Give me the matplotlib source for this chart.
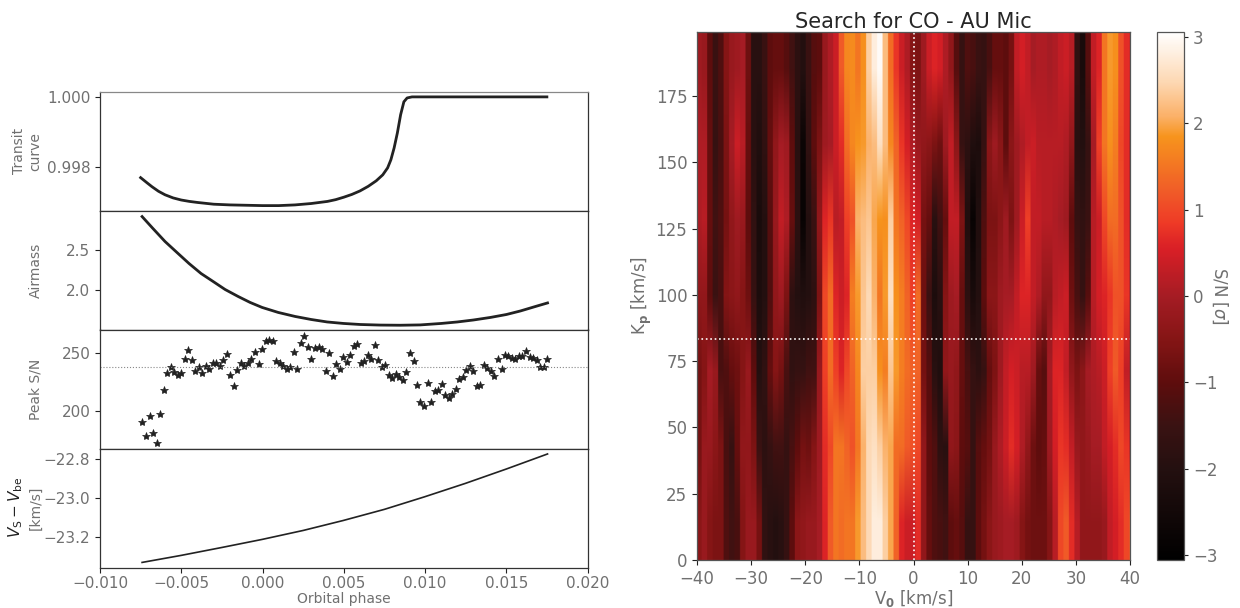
import numpy as np
import matplotlib
matplotlib.use("Agg")
import matplotlib.pyplot as plt
from matplotlib.colors import LinearSegmentedColormap

# ---------- left panels ----------
transit_phase = [-0.0075, -0.0071, -0.0068, -0.0064, -0.0060, -0.0055, -0.0050, -0.0045, -0.0040, -0.0030,
                 -0.0020, -0.0010, 0.0, 0.0010, 0.0020, 0.0030, 0.0040, 0.0045, 0.0050, 0.0055,
                 0.0060, 0.0065, 0.0070, 0.0074, 0.0077, 0.0079, 0.0081, 0.0083, 0.0085, 0.0087,
                 0.0089, 0.0092, 0.0175]
transit_flux = [0.99769, 0.99754, 0.99743, 0.99730, 0.99720, 0.99711, 0.99705, 0.99701, 0.99698, 0.99693,
                0.99691, 0.99690, 0.99689, 0.99689, 0.99691, 0.99695, 0.99701, 0.99706, 0.99713, 0.99721,
                0.99731, 0.99744, 0.99760, 0.99777, 0.99797, 0.99820, 0.99854, 0.99897, 0.99949, 0.99986,
                0.99997, 1.0, 1.0]

airmass_phase = [-0.00741, -0.00674, -0.0060, -0.00526, -0.00452, -0.00378, -0.00304, -0.0023, -0.0015, -0.00076,
                 -0.00002, 0.00097, 0.00201, 0.0030, 0.00398, 0.00497, 0.00602, 0.00725, 0.00848, 0.00971,
                 0.01101, 0.01199, 0.01298, 0.01402, 0.01501, 0.01587, 0.0168, 0.01754]
airmass_vals = [2.902, 2.756, 2.598, 2.463, 2.329, 2.207, 2.110, 2.012, 1.927, 1.854,
                1.793, 1.732, 1.683, 1.646, 1.616, 1.598, 1.585, 1.578, 1.576, 1.580,
                1.598, 1.616, 1.640, 1.671, 1.707, 1.750, 1.805, 1.848]

sn_phase = [-0.007392, -0.007166, -0.006940, -0.006735, -0.006509, -0.006283, -0.006078, -0.005852, -0.005647, -0.005421,
            -0.005215, -0.004990, -0.004784, -0.004579, -0.004353, -0.004127, -0.003922, -0.003696, -0.003470, -0.003265,
            -0.003039, -0.002834, -0.002608, -0.002402, -0.002177, -0.001971, -0.001745, -0.001540, -0.001314, -0.001109,
            -0.000883, -0.000678, -0.000452, -0.000246, -0.000020, 0.000185, 0.000411, 0.000616, 0.000842, 0.001068,
            0.001273, 0.001499, 0.001704, 0.001930, 0.002136, 0.002362, 0.002567, 0.002793, 0.002998, 0.003224,
            0.003450, 0.003655, 0.003881, 0.004087, 0.004313, 0.004538, 0.004744, 0.004970, 0.005175, 0.005401,
            0.005606, 0.005832, 0.006038, 0.006263, 0.006469, 0.006695, 0.006900, 0.007126, 0.007331, 0.007557,
            0.007783, 0.007988, 0.008214, 0.008419, 0.008645, 0.008851, 0.009077, 0.009302, 0.009508, 0.009713,
            0.009939, 0.010165, 0.010370, 0.010596, 0.010801, 0.011027, 0.011253, 0.011458, 0.011684, 0.011890,
            0.012116, 0.012321, 0.012547, 0.012773, 0.012978, 0.013204, 0.013409, 0.013635, 0.013841, 0.014066,
            0.014272, 0.014498, 0.014724, 0.014929, 0.015134, 0.015360, 0.015565, 0.015771, 0.015997, 0.016222,
            0.016448, 0.016654, 0.016879, 0.017085, 0.017311, 0.017516]
sn_vals = [190.5, 177.9, 195.1, 180.8, 171.8, 196.9, 218.1, 232.8, 238.0, 233.6,
           230.8, 232.5, 244.8, 252.0, 243.7, 234.5, 237.4, 232.8, 238.8, 236.2,
           240.8, 241.4, 238.8, 243.7, 248.9, 230.8, 221.0, 235.4, 240.8, 238.5,
           241.4, 244.6, 250.9, 240.5, 253.5, 259.8, 260.7, 259.8, 243.1, 240.8,
           238.2, 235.6, 238.0, 250.3, 235.9, 258.6, 264.7, 255.2, 244.8, 254.0,
           255.2, 253.2, 234.2, 250.0, 230.2, 240.0, 235.9, 246.6, 241.7, 248.0,
           255.8, 257.2, 241.4, 242.8, 248.3, 244.6, 256.6, 243.7, 238.0, 239.4,
           230.8, 227.9, 231.9, 229.3, 226.7, 233.4, 249.4, 242.5, 222.4, 207.2,
           204.3, 223.6, 207.2, 217.3, 217.5, 222.7, 213.5, 210.4, 214.7, 218.7,
           227.3, 229.0, 235.4, 238.2, 233.9, 221.0, 221.9, 239.7, 237.1, 234.5,
           229.6, 244.8, 236.2, 247.7, 246.9, 245.4, 244.6, 247.4, 246.9, 251.7,
           246.3, 245.4, 244.0, 237.4, 238.0, 244.3]
sn_mean = 238.0

bary_phase = [-0.00741, -0.00501, -0.00248, -0.00002, 0.00251, 0.00497, 0.0075, 0.00996, 0.01248, 0.01501, 0.01754]
bary_vals = [-23.328, -23.292, -23.251, -23.210, -23.164, -23.113, -23.056, -22.992, -22.923, -22.849, -22.772]

phase_ticks = [-0.010, -0.005, 0.000, 0.005, 0.010, 0.015, 0.020]
phase_ticklabels = ["\u22120.010", "\u22120.005", "0.000", "0.005", "0.010", "0.015", "0.020"]

# ---------- right panel: S/N map, rows from low to high Kp ----------
row_kp14 = [-0.4, -0.2, -0.5, -0.6, -0.6, -1.2, -1.4, -1.3, -0.5, -0.2, -0.2, -0.7, -1.7, -1.9, -2.0, -1.9, -1.6, -1.0, -0.4, -0.3,
            -0.2, -0.2, 0.0, 0.6, 1.2, 1.5, 1.4, 1.5, 1.5, 1.9, 2.2, 2.5, 2.8, 2.8, 2.4, 2.0, 1.3, 0.6, 0.4, 0.4,
            0.7, -0.3, -0.9, -1.2, -1.3, -1.4, -1.0, -0.9, -1.1, -1.6, -1.6, -1.0, -0.7, -0.4, -0.2, -0.1, 0.0, 0.0, -0.1, -0.5,
            -0.7, -0.8, -0.8, -0.8, -0.5, 0.2, 1.0, 1.2, 0.7, 0.2, -0.3, -0.3, -0.3, -0.3, -0.2, 0.3, 0.5, 0.7, 1.0, 1.2]
row_kp43 = [-0.7, -0.2, -0.2, -0.4, -0.6, -1.3, -1.6, -0.9, -0.3, -0.3, -0.6, -1.5, -1.8, -1.6, -1.4, -1.4, -1.6, -1.3, -1.0, -0.7,
            -0.8, -0.5, -0.1, 0.7, 1.0, 1.5, 1.5, 1.3, 1.1, 1.5, 2.1, 2.5, 2.6, 2.4, 2.1, 2.0, 1.4, 1.4, 1.2, 1.1,
            1.0, -0.3, -1.0, -1.2, -1.8, -1.9, -0.3, -0.4, -1.0, -1.1, -1.6, -1.1, -0.9, -0.7, -0.2, 0.1, 0.4, 0.7, 0.5, 0.1,
            -0.3, -0.8, -1.0, -0.9, -0.1, 0.5, 0.8, 0.7, 0.3, -0.2, -0.3, -0.2, 0.0, 0.0, 0.3, 0.5, 0.7, 1.0, 0.8, 0.3]
row_kp71 = [-0.7, -0.5, 0.0, -0.2, -1.3, -1.2, -0.9, -0.8, -0.5, -0.2, -1.0, -2.0, -1.7, -0.9, -0.5, -0.7, -1.3, -1.7, -1.6, -1.6,
            -1.4, -1.4, -0.2, 0.9, 1.4, 0.9, 0.6, 1.0, 1.3, 1.7, 2.4, 2.4, 2.4, 1.8, 1.6, 2.3, 1.9, 1.6, 1.4, 1.3,
            1.3, -0.7, -1.1, -1.9, -2.1, -0.3, -0.2, -0.3, -0.9, -1.3, -1.6, -1.8, -1.6, -0.9, -0.6, -0.1, 0.3, 0.5, 0.4, 0.2,
            0.2, -0.1, -0.9, -1.1, 0.0, 0.6, 0.6, 0.3, -0.3, -0.6, -0.4, 0.0, 0.1, 0.2, 0.4, 0.9, 1.2, 0.9, 0.3, 0.1]
row_kp100 = [-0.3, -0.3, -1.0, -1.5, -1.3, -0.5, -0.4, -0.3, -0.5, -0.8, -1.6, -2.2, -2.0, -1.2, -0.3, -0.1, -0.6, -1.8, -2.0, -2.1,
             -2.0, -1.8, -0.6, 1.0, 1.4, 0.6, 0.4, 0.6, 1.6, 1.9, 2.3, 2.5, 2.1, 1.5, 1.9, 2.6, 1.8, 1.6, 1.3, 0.9,
             1.4, -0.8, -1.5, -2.2, -1.9, -0.5, -0.1, 0.0, -0.9, -1.8, -2.3, -2.0, -1.0, -0.4, -0.4, -0.1, 0.0, 0.0, 0.3, 0.6,
             0.6, 0.3, 0.1, -0.3, -0.3, 0.2, 0.3, 0.4, -0.8, -1.3, -1.6, -1.1, 0.2, 0.5, 0.6, 0.8, 1.1, 1.1, 0.8, 0.4]
row_kp129 = [0.1, 0.2, -0.9, -1.4, -1.2, -0.7, -0.3, -0.1, -0.2, -1.0, -1.7, -2.3, -2.0, -1.1, -0.2, 0.3, 0.1, -0.9, -1.8, -2.8,
             -2.0, -1.5, -0.3, 0.6, 0.8, 0.2, 0.3, 0.9, 1.1, 2.1, 2.2, 2.3, 2.0, 1.85, 1.8, 2.4, 1.5, 1.3, 1.0, 0.6,
             0.5, -0.7, -0.9, -1.9, -1.4, -0.9, 0.3, 0.3, -0.6, -2.1, -2.8, -2.1, -1.2, -0.6, -0.6, -0.4, -0.1, -0.6, -0.1, 0.4,
             0.9, 0.3, 0.3, 0.2, 0.2, 0.1, 0.0, -0.1, -1.0, -1.6, -1.7, -1.5, 0.2, 0.4, 1.0, 1.4, 1.4, 1.1, 0.7, 0.3]
row_kp157 = [0.1, 0.1, -0.9, -1.6, -1.3, -0.6, 0.0, 0.4, 0.2, -0.9, -1.9, -2.1, -1.7, -0.9, -0.3, 0.0, -0.1, -1.0, -1.9, -2.7,
             -1.7, -1.0, -0.6, -0.1, 0.0, 0.4, 0.7, 1.4, 1.7, 1.85, 1.9, 2.1, 2.2, 2.6, 2.2, 1.7, 1.3, 0.8, 0.5, 0.1,
             -0.2, -0.3, -0.4, -0.6, -0.8, -0.1, 0.3, -0.4, -1.6, -1.8, -2.1, -2.2, -1.6, -0.4, -0.1, -0.4, -1.0, -0.4, -0.1, 0.1,
             0.3, 0.4, 0.2, 0.2, 0.2, 0.2, 0.2, 0.1, -0.3, -1.9, -2.0, -1.6, 0.0, 0.9, 1.5, 1.8, 1.6, 1.0, 0.7, 0.2]
row_kp186 = [-0.1, -0.2, -1.0, -1.5, -1.2, -0.5, -0.2, -0.1, 0.0, -0.8, -1.9, -1.9, -1.5, -1.0, -0.9, -0.9, -1.1, -1.4, -1.8, -2.0,
             -1.5, -1.1, -1.0, -0.2, 0.1, 0.4, 1.2, 1.7, 1.75, 1.5, 1.8, 2.4, 2.8, 3.0, 2.2, 1.4, 0.8, 0.4, 0.1, -0.5,
             -0.6, -0.1, 0.4, 0.6, 0.5, 0.1, -0.3, -1.1, -1.6, -1.2, -1.3, -1.5, -1.6, -1.3, -0.9, -0.9, -1.0, -0.7, 0.3, 0.5,
             0.3, 0.0, 0.1, 0.1, 0.0, 0.1, 0.3, 0.4, 0.2, -1.7, -2.3, -1.1, 0.3, 0.6, 1.5, 1.9, 1.8, 1.1, 0.7, 0.6]
sn_rows = [row_kp14, row_kp43, row_kp71, row_kp100, row_kp129, row_kp157, row_kp186]

cmap_nodes = [(-3.06, "#000000"), (-2.0, "#241010"), (-1.5, "#3a1212"), (-1.0, "#5e0d0d"), (-0.5, "#851515"),
              (0.0, "#a51c24"), (0.55, "#d91f26"), (0.85, "#ee3a26"), (1.2, "#f05a28"), (1.85, "#f7941d"),
              (2.1, "#fbb26b"), (2.5, "#fdd9b5"), (3.06, "#ffffff")]

kp_true = 83.3
v_true = 0.0
vmax = 3.06

# ---------- styling ----------
plt.rcParams["font.family"] = "DejaVu Sans"
GREY = "#707070"
DARK = "#222222"
W, H = 1240.0, 608.0


def axes_px(x0, y0, x1, y1):
    return fig.add_axes([x0 / W, 1 - y1 / H, (x1 - x0) / W, (y1 - y0) / H])


fig = plt.figure(figsize=(12.4, 6.08), dpi=100, facecolor="white")

panel_edges = [92, 210.5, 329.5, 448.5, 567.5]
axs = [axes_px(100, panel_edges[i], 587.5, panel_edges[i + 1]) for i in range(4)]

axs[0].plot(transit_phase, transit_flux, color=DARK, lw=2.0)
axs[0].set_ylim(0.99675, 1.00014)
axs[0].set_yticks([0.998, 1.000])
axs[0].set_yticklabels(["0.998", "1.000"])
axs[0].set_ylabel("Transit\ncurve", fontsize=10, color=GREY, linespacing=1.2)

axs[1].plot(airmass_phase, airmass_vals, color=DARK, lw=2.0)
axs[1].set_ylim(1.524, 2.976)
axs[1].set_yticks([2.0, 2.5])
axs[1].set_ylabel("Airmass", fontsize=10, color=GREY)

axs[2].plot(sn_phase, sn_vals, ls="none", marker="*", ms=6, color=DARK, mew=0.5)
axs[2].axhline(sn_mean, color="#888888", lw=0.8, ls=":")
axs[2].set_ylim(167.2, 270)
axs[2].set_yticks([200, 250])
axs[2].set_ylabel("Peak S/N", fontsize=10, color=GREY)

axs[3].plot(bary_phase, bary_vals, color=DARK, lw=1.2)
axs[3].set_ylim(-23.354, -22.744)
axs[3].set_yticks([-23.2, -23.0, -22.8])
axs[3].set_yticklabels(["\u221223.2", "\u221223.0", "\u221222.8"])
axs[3].set_ylabel("[km/s]", fontsize=10, color=GREY)
axs[3].text(-0.154, 0.505, "$V_{\\mathrm{S}}-V_{\\mathrm{be}}$", transform=axs[3].transAxes, rotation=90,
            fontsize=11, color=DARK, ha="right", va="center")
axs[3].set_xlabel("Orbital phase", fontsize=10, color=GREY, labelpad=1)

for i, ax in enumerate(axs):
    ax.set_xlim(-0.010, 0.020)
    ax.tick_params(axis="y", labelsize=11, labelcolor=GREY, color=DARK, length=3.5, width=0.8)
    for s in ax.spines.values():
        s.set_color("#333333")
        s.set_linewidth(0.9)
    if i < 3:
        ax.set_xticks([])
    ax.yaxis.set_label_coords(-0.118, 0.5)
axs[3].set_xticks(phase_ticks)
axs[3].set_xticklabels(phase_ticklabels)
axs[3].tick_params(axis="x", labelsize=11, labelcolor=GREY, color=DARK, length=3.5, width=0.8, pad=2.5)
axs[0].spines["top"].set_color("#888888")

# map: each column repeated so that only the Kp direction is smoothed on screen
cm = LinearSegmentedColormap.from_list(
    "sn", [((v + vmax) / (2 * vmax), c) for v, c in cmap_nodes], N=512)
ax_map = axes_px(697, 32, 1130, 560)
im = ax_map.imshow(np.repeat(np.array(sn_rows), 8, axis=1), origin="lower", aspect="auto", cmap=cm,
                   vmin=-vmax, vmax=vmax, extent=(-40.15, 40.87, 0, 200), interpolation="bilinear")
ax_map.set_xlim(-40, 40)
ax_map.set_ylim(0, 199.2)
ax_map.axvline(v_true, color="white", lw=1.2, ls=":")
ax_map.axhline(kp_true, color="white", lw=1.2, ls=":")
ax_map.set_xticks([-40, -30, -20, -10, 0, 10, 20, 30, 40])
ax_map.set_yticks([0, 25, 50, 75, 100, 125, 150, 175])
ax_map.tick_params(labelsize=12, labelcolor=GREY, color=DARK, length=3.5, width=0.8)
ax_map.tick_params(axis="x", pad=3.5)
ax_map.set_xlabel("V$_{\\mathbf{0}}$ [km/s]", fontsize=12, color=GREY, labelpad=0)
ax_map.set_ylabel("K$_{\\mathbf{p}}$ [km/s]", fontsize=12, color=GREY, labelpad=1)
ax_map.set_title("Search for CO - AU Mic", fontsize=15, color="#262626", pad=3)
for s in ax_map.spines.values():
    s.set_color("#555555")
    s.set_linewidth(0.9)

cax = axes_px(1157, 32, 1184, 560)
cb = fig.colorbar(im, cax=cax)
cb.set_ticks([-3, -2, -1, 0, 1, 2, 3])
cb.ax.tick_params(labelsize=12, labelcolor=GREY, color=DARK, length=3, width=0.8)
cb.set_label("S/N [$\\sigma$]", fontsize=12, color=GREY, rotation=270, labelpad=9)
cb.outline.set_edgecolor("#555555")
cb.outline.set_linewidth(0.9)

fig.savefig("out.png", dpi=100, facecolor="white")
